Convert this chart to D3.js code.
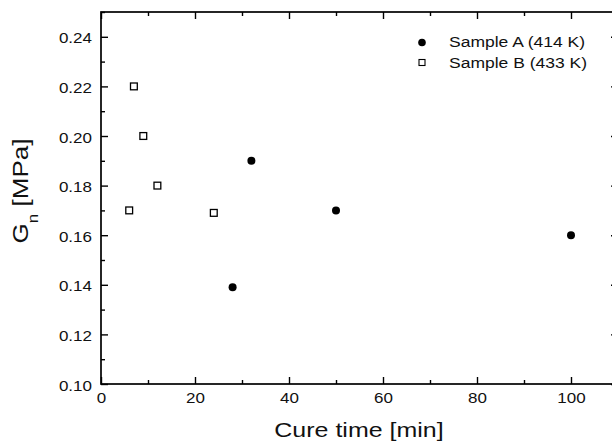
<!DOCTYPE html>
<html lang="en">
<head>
<meta charset="utf-8">
<title>Gn vs cure time</title>
<style>
  body { margin: 0; padding: 0; background: #fff; overflow: hidden; }
  svg { display: block; font-family: 'Liberation Sans', Arial, sans-serif; }
  .tick text { font-size: 17px; fill: #111; }
</style>
</head>
<body>
<svg id="chart" width="612" height="445"></svg>
<script src="https://cdnjs.cloudflare.com/ajax/libs/d3/7.8.5/d3.min.js"></script>
<script>
// data
var sampleA_time = [28, 32, 50, 100];
var sampleA_gn   = [0.139, 0.19, 0.17, 0.16];
var sampleB_time = [6, 7, 9, 12, 24];
var sampleB_gn   = [0.17, 0.22, 0.20, 0.18, 0.169];
var xTicks = [0, 20, 40, 60, 80, 100];
var yTicks = [0.10, 0.12, 0.14, 0.16, 0.18, 0.20, 0.22, 0.24];
var legendLabels = ['Sample A (414 K)', 'Sample B (433 K)'];

var svg = d3.select('#chart'),
    pLeft = 101, pRight = 618, pTop = 12, pBottom = 384,
    squash = 0.87; // the original figure's text is a bit flattened vertically

var x = d3.scaleLinear().domain([0, 110]).range([pLeft, pRight]);
var y = d3.scaleLinear().domain([0.10, 0.25]).range([pBottom, pTop]);

var xMinor = d3.range(10, 111, 20);
var yMinor = d3.range(0.11, 0.251, 0.02);

// frame
svg.append('rect')
  .attr('x', pLeft).attr('y', pTop)
  .attr('width', pRight - pLeft).attr('height', pBottom - pTop)
  .attr('fill', 'none').attr('stroke', '#000').attr('stroke-width', 1.7);

function tickAxis(axis, pos, ticks, size, fmt) {
  var g = svg.append('g').attr('transform', pos)
    .call(axis.tickValues(ticks).tickSizeInner(size).tickSizeOuter(0)
      .tickPadding(6)
      .tickFormat(fmt ? fmt : function () { return ''; }));
  g.select('.domain').remove();
  g.selectAll('.tick line').attr('stroke', '#000').attr('stroke-width', 1.4);
  return g;
}

// ticks point inward => negative size
tickAxis(d3.axisBottom(x), 'translate(0,' + pBottom + ')', xTicks, -7, d3.format('d'))
  .selectAll('.tick text').attr('y', null).attr('dy', null)
  .attr('transform', 'translate(0,19) scale(1,' + squash + ')');
tickAxis(d3.axisBottom(x), 'translate(0,' + pBottom + ')', xMinor, -4, null);
tickAxis(d3.axisTop(x), 'translate(0,' + pTop + ')', xTicks, -7, null);
tickAxis(d3.axisTop(x), 'translate(0,' + pTop + ')', xMinor, -4, null);

tickAxis(d3.axisLeft(y), 'translate(' + pLeft + ',0)', yTicks, -7, d3.format('.2f'))
  .selectAll('.tick text').attr('x', null).attr('dy', null)
  .attr('transform', 'translate(-9,6) scale(1,' + squash + ')');
tickAxis(d3.axisLeft(y), 'translate(' + pLeft + ',0)', yMinor, -4, null);
tickAxis(d3.axisRight(y), 'translate(' + pRight + ',0)', yTicks, -7, null);
tickAxis(d3.axisRight(y), 'translate(' + pRight + ',0)', yMinor, -4, null);

// points
var dataA = sampleA_time.map(function (t, i) { return [t, sampleA_gn[i]]; });
var dataB = sampleB_time.map(function (t, i) { return [t, sampleB_gn[i]]; });

svg.append('g').selectAll('circle').data(dataA).enter().append('circle')
  .attr('cx', function (d) { return x(d[0]); })
  .attr('cy', function (d) { return y(d[1]); })
  .attr('r', 4).attr('fill', '#000');

svg.append('g').selectAll('rect').data(dataB).enter().append('rect')
  .attr('x', function (d) { return x(d[0]) - 3.4; })
  .attr('y', function (d) { return y(d[1]) - 3.4; })
  .attr('width', 6.8).attr('height', 6.8)
  .attr('fill', '#fff').attr('stroke', '#000').attr('stroke-width', 1.3);

// legend
var leg = svg.append('g').attr('transform', 'translate(422,42.5)');
leg.append('circle').attr('cx', 0).attr('cy', 0).attr('r', 3.8).attr('fill', '#000');
leg.append('rect').attr('x', -3).attr('y', 17).attr('width', 6).attr('height', 6)
  .attr('fill', '#fff').attr('stroke', '#000').attr('stroke-width', 1.1);
leg.selectAll('text').data(legendLabels).enter().append('text')
  .attr('transform', function (d, i) {
    return 'translate(27,' + (4.5 + i * 20.5) + ') scale(1,' + squash + ')';
  })
  .attr('font-size', 17.5).attr('fill', '#111')
  .text(function (d) { return d; });

// axis titles
svg.append('text')
  .attr('transform', 'translate(359,437) scale(1,0.84)')
  .attr('text-anchor', 'middle').attr('font-size', 25).attr('fill', '#111')
  .text('Cure time [min]');

var yl = svg.append('text')
  .attr('transform', 'translate(28,191) rotate(-90) scale(1,0.82)')
  .attr('text-anchor', 'middle').attr('font-size', 26).attr('fill', '#111');
yl.append('tspan').text('G');
yl.append('tspan').attr('font-size', 17).attr('dy', 12).text('n');
yl.append('tspan').attr('dy', -12).text(' [MPa]');
</script>
</body>
</html>
